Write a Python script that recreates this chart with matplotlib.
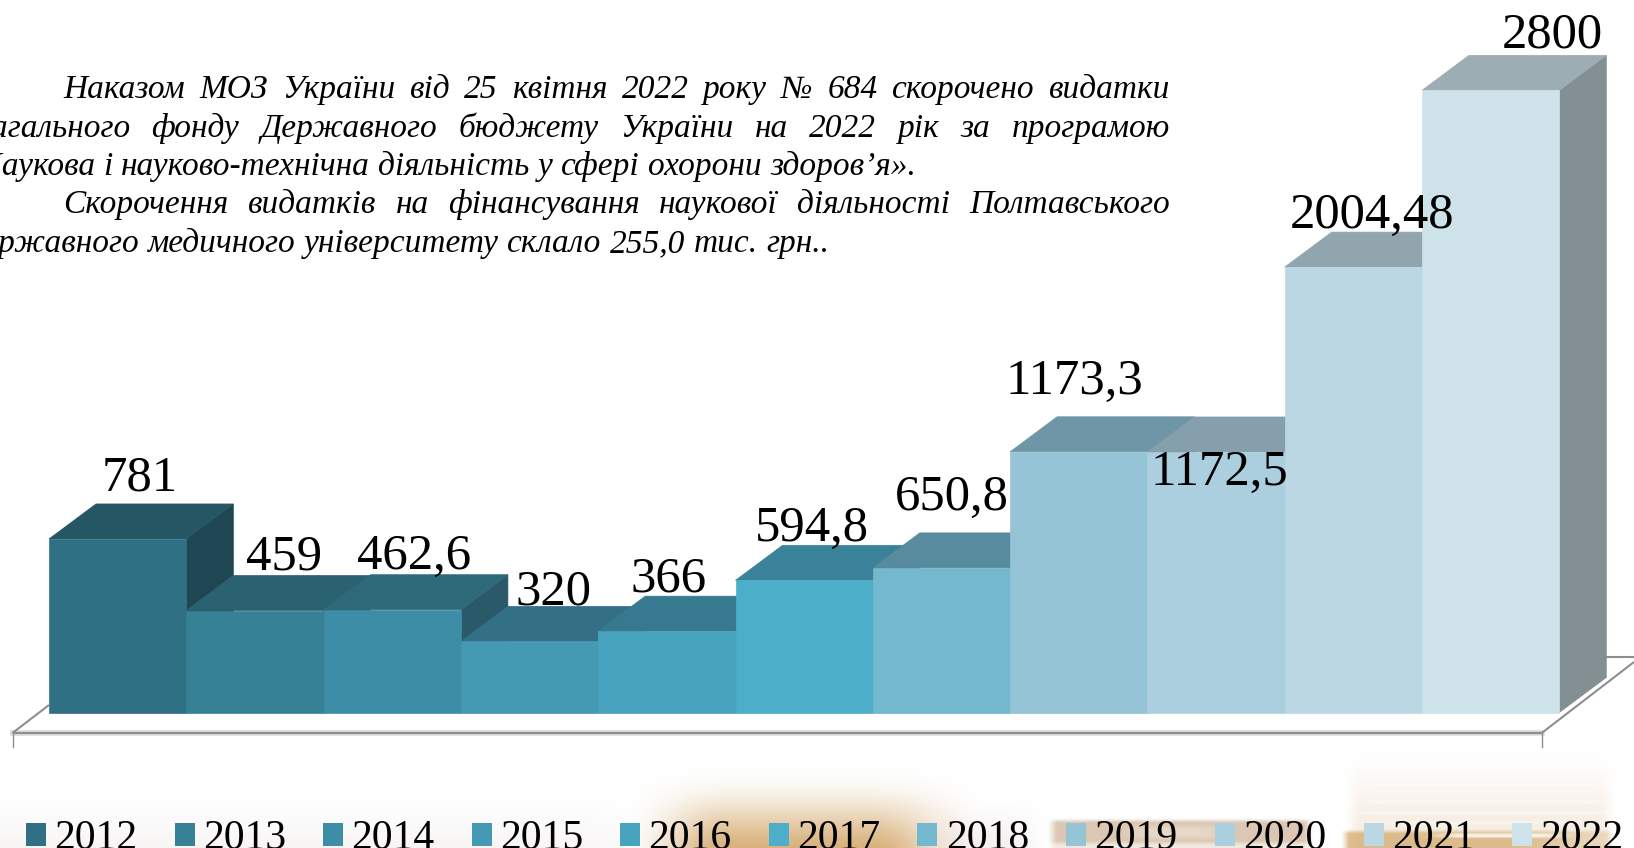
import numpy as np
import matplotlib
matplotlib.use("Agg")
import matplotlib.pyplot as plt
from matplotlib.patches import Polygon, Patch
from matplotlib.transforms import Affine2D, IdentityTransform

years = ['2012','2013','2014','2015','2016','2017','2018','2019','2020','2021','2022']
values = [781, 459, 462.6, 320, 366, 594.8, 650.8, 1173.3, 1172.5, 2004.48, 2800]
labels = ['781','459','462,6','320','366','594,8','650,8','1173,3','1172,5','2004,48','2800']
front = ['#2F7085','#368196','#3E8DA6','#439AB2','#48A4BE','#4DAEC9','#74B8CF','#95C4D6','#ABCFDF','#BBD7E4','#CEE2E9']
top = ['#245663','#2B6272','#2F6A7B','#336F85','#377A90','#3A8299','#588B9D','#6E96A6','#85A0AC','#90A5AE','#9DADB4']
side = ['#1F4753','#255563','#2A5A69','#2E6274','#316B7E','#336F85','#4D7B8B','#5F8594','#738A95','#7C8B93','#848F94']
label_dx = [22, 29.5, 21.7, 24.4, 2, 8, 10.4, -4.5, 3, 19, 61.5]
label_dy = [48.5, 41, 41, 36.5, 40, 39, 58, 58, -33, 39, 43]

paragraph = [
    ('Наказом МОЗ України від 25 квітня 2022 року № 684 скорочено видатки', 63.5, 1170, 98),
    ('загального фонду Державного бюджету України на 2022 рік за програмою', -22, 1170, 137),
    ('«Наукова і науково-технічна діяльність у сфері охорони здоров’я».', None, 916, 175),
    ('Скорочення видатків на фінансування наукової діяльності Полтавського', 63.5, 1170, 213),
    ('державного медичного університету склало 255,0 тис. грн..', None, 829, 252),
]

W, H = 1634, 848
BASE, LEFT, STEP, SCALE = 712.5, 49.0, 137.3, 0.2222
DX, DY = 47 / STEP, 35 / SCALE

fig = plt.figure(figsize=(W / 100, H / 100), dpi=100, facecolor='white')
ax = fig.add_axes([0, 0, 1, 1])
ax.axis('off')
px = Affine2D().scale(1, -1).translate(0, H)


def smooth(a, lo, hi):
    t = np.clip((a - lo) / (hi - lo), 0, 1)
    return t * t * (3 - 2 * t)


yy, xx = np.mgrid[0:H, 0:W].astype(float)
img = np.ones((H, W, 3))


def blend(mask, color):
    c = np.array(matplotlib.colors.to_rgb(color))
    img[:] = img * (1 - mask[..., None]) + c * mask[..., None]


def box(x0, x1, y0, y1, fx=8, fy=4):
    return (smooth(xx, x0 - fx, x0 + fx) * (1 - smooth(xx, x1 - fx, x1 + fx))
            * smooth(yy, y0 - fy, y0 + fy) * (1 - smooth(yy, y1 - fy, y1 + fy)))


blend(0.4 * smooth(yy, 790, 856) * (1 - smooth(xx, 560, 700)), '#EFE6E6')
blend(0.9 * smooth(yy, 762, 858) ** 1.3 * smooth(xx, 625, 725) * (1 - smooth(xx, 870, 985)), '#D3A567')
blend(0.4 * smooth(yy, 790, 856) * smooth(xx, 900, 960) * (1 - smooth(xx, 1010, 1050)), '#E8D8D8')
# coin stack, middle
blend(0.8 * box(1052, 1308, 820, 843, 6, 3), '#D2BAA0')
blend(0.45 * box(1130, 1220, 826, 838, 20, 4), '#F4EADF')
blend(0.35 * box(1052, 1308, 843, 860, 6, 3), '#D8C0A4')
# coin stack, right
blend(0.55 * smooth(yy, 745, 835) * box(1352, 1608, 745, 860, 8, 4), '#EFE0CB')
for y0, y1, a in [(783, 786, .35), (790, 792, .35), (800, 803, .5), (811, 814, .5), (821, 823, .4)]:
    blend(a * box(1365, 1600, y0, y1, 25, 1.5), '#FFFFFF')
blend(0.85 * box(1345, 1610, 831, 860, 5, 3) * (1 - 0.55 * smooth(xx, 1500, 1610)), '#D8B27C')
blend(0.8 * box(1440, 1560, 833, 837, 25, 1.5), '#FFFFFF')
ax.imshow(img, extent=(0, W, 0, H), transform=IdentityTransform(),
          aspect='auto', zorder=0, interpolation='bilinear')
ax.set_xlim(-LEFT / STEP, (W - LEFT) / STEP)
ax.set_ylim(-(H - BASE) / SCALE, BASE / SCALE)

# floor
line = dict(color='#8E8E8E', lw=1.5, transform=px, zorder=1, solid_capstyle='butt')
ax.plot([12.5, 1541.7], [733, 733], color='#DADADA', lw=4, transform=px, zorder=1)
ax.plot([12.5, 1541.7], [733, 733], **line)
ax.plot([12.5, 49], [733, 705], **line)
ax.plot([1541.7, 1634], [733, 662], **line)
ax.plot([1606, 1634], [657, 657], **line)
ax.plot([12.5, 12.5], [733, 747], color='#8E8E8E', lw=1.0, transform=px, zorder=1)
ax.plot([1541.7, 1541.7], [733, 747], color='#8E8E8E', lw=1.0, transform=px, zorder=1)

# bars, left to right so that later ones overlap earlier ones
for i, v in enumerate(values):
    z = 2 + i
    ax.add_patch(Polygon([(i + 1, 0), (i + 1 + DX, DY), (i + 1 + DX, v + DY), (i + 1, v)],
                         fc=side[i], ec=side[i], lw=0.5, zorder=z))
    ax.add_patch(Polygon([(i, v), (i + DX, v + DY), (i + 1 + DX, v + DY), (i + 1, v)],
                         fc=top[i], ec=top[i], lw=0.5, zorder=z))
    ax.add_patch(Polygon([(i, 0), (i + 1, 0), (i + 1, v), (i, v)],
                         fc=front[i], ec=front[i], lw=0.5, zorder=z))

for i, v in enumerate(values):
    ax.annotate(labels[i], xy=(i + .5, v), xytext=(label_dx[i] * .72, label_dy[i] * .72),
                textcoords='offset points', ha='center', va='baseline',
                family='Liberation Serif', fontsize=36.5, color='black', zorder=30)

# justified paragraph, word by word
renderer = fig.canvas.get_renderer()
style = dict(family='Liberation Serif', style='italic', fontsize=24, color='black',
             transform=px, va='baseline', ha='left', zorder=31)
for s, x0, x1, y in paragraph:
    words = s.split(' ')
    arts = [ax.text(0, y, w, **style) for w in words]
    widths = [a.get_window_extent(renderer).width for a in arts]
    space = ax.text(0, y, 'n n', **style)
    nn = ax.text(0, y, 'nn', **style)
    gap0 = space.get_window_extent(renderer).width - nn.get_window_extent(renderer).width
    space.remove(); nn.remove()
    if x0 is None:
        x0 = x1 - sum(widths) - gap0 * (len(words) - 1)
        gap = gap0
    else:
        gap = (x1 - x0 - sum(widths)) / (len(words) - 1)
    x = x0
    for a, w in zip(arts, widths):
        a.set_x(x)
        x += w + gap

handles = [Patch(fc=c, ec='none') for c in front]
ax.legend(handles, years, ncol=11, frameon=False, loc='lower left',
          bbox_to_anchor=(26 / W, -10 / H), bbox_transform=fig.transFigure,
          prop={'family': 'Liberation Serif', 'size': 30},
          handlelength=.48, handleheight=.48, handletextpad=.2, columnspacing=.89,
          borderpad=0, borderaxespad=0).set_zorder(32)

fig.savefig('out.png', dpi=100)
